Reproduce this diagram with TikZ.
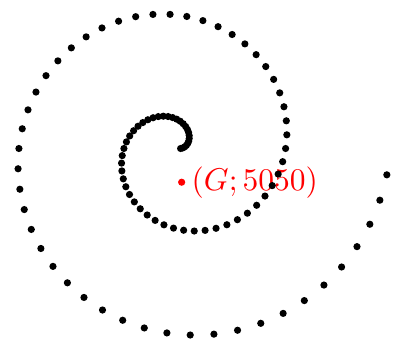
\documentclass[tikz,border=0pt]{standalone}
\usetikzlibrary{calc}
\begin{document}
\begin{tikzpicture}[x=1pt,y=1pt,
  spiraldot/.style={fill=black},
  gdot/.style={fill=red},
  glabel/.style={text=red, anchor=west, scale=3.15, inner sep=3pt}]
\useasboundingbox (0,0) rectangle (395,340);
\def\bstep{2.1}
\coordinate (C) at (178.5,191.5);
% barycentre of A_k (weights k), A_k = C + k*b*(cos((k-1)*7.2), sin((k-1)*7.2))
\coordinate (G) at ($(C)+(1.5014*\bstep,-16.0518*\bstep)$);
\fill[gdot] (G) circle (3.6);
\node[glabel] (lab) at (G) {$(G;5050)$};
\foreach \k in {1,...,100}
  \fill[spiraldot] ($(C)+({(\k-1)*7.2}:{\k*\bstep})$) circle (3.6);
\end{tikzpicture}
\end{document}
